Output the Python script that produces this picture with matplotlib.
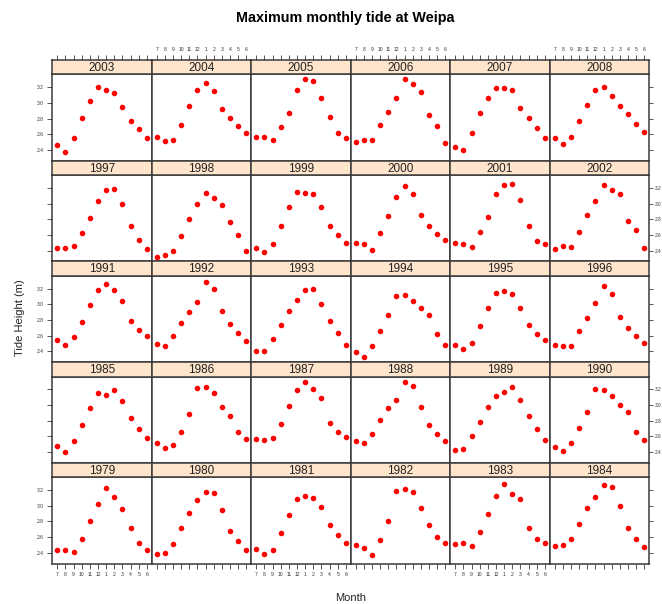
import numpy as np
import matplotlib
matplotlib.use('Agg')
import matplotlib.pyplot as plt

plt.rcParams['font.family'] = ['Liberation Sans', 'DejaVu Sans']

# months run July -> June
month_labels = ['7', '8', '9', '10', '11', '12', '1', '2', '3', '4', '5', '6']

# maximum monthly tide (m)
t1979 = [2.44, 2.44, 2.41, 2.57, 2.80, 3.02, 3.23, 3.11, 2.96, 2.71, 2.52, 2.44]
t1980 = [2.38, 2.40, 2.51, 2.71, 2.91, 3.08, 3.17, 3.16, 2.94, 2.68, 2.55, 2.43]
t1981 = [2.45, 2.39, 2.44, 2.65, 2.88, 3.09, 3.13, 3.10, 2.98, 2.75, 2.63, 2.53]
t1982 = [2.50, 2.46, 2.37, 2.56, 2.80, 3.19, 3.22, 3.18, 2.97, 2.76, 2.60, 2.52]
t1983 = [2.51, 2.52, 2.49, 2.66, 2.90, 3.12, 3.28, 3.15, 3.09, 2.71, 2.57, 2.52]
t1984 = [2.49, 2.50, 2.57, 2.77, 2.97, 3.11, 3.26, 3.24, 3.00, 2.71, 2.57, 2.48]
t1985 = [2.48, 2.40, 2.54, 2.75, 2.96, 3.15, 3.13, 3.19, 3.05, 2.83, 2.70, 2.58]
t1986 = [2.51, 2.45, 2.49, 2.66, 2.89, 3.22, 3.23, 3.16, 2.97, 2.86, 2.66, 2.57]
t1987 = [2.57, 2.55, 2.58, 2.76, 2.99, 3.19, 3.29, 3.20, 3.09, 2.77, 2.66, 2.59]
t1988 = [2.54, 2.51, 2.63, 2.81, 2.96, 3.06, 3.29, 3.25, 2.97, 2.75, 2.63, 2.54]
t1989 = [2.43, 2.44, 2.60, 2.78, 2.97, 3.11, 3.17, 3.23, 3.06, 2.86, 2.70, 2.56]
t1990 = [2.47, 2.42, 2.51, 2.71, 2.91, 3.20, 3.19, 3.12, 3.00, 2.91, 2.66, 2.55]
t1991 = [2.54, 2.48, 2.58, 2.78, 2.99, 3.19, 3.26, 3.19, 3.04, 2.79, 2.67, 2.59]
t1992 = [2.50, 2.47, 2.60, 2.76, 2.90, 3.03, 3.29, 3.20, 2.91, 2.75, 2.63, 2.53]
t1993 = [2.41, 2.41, 2.56, 2.74, 2.91, 3.06, 3.19, 3.20, 3.00, 2.79, 2.64, 2.48]
t1994 = [2.39, 2.33, 2.47, 2.66, 2.87, 3.11, 3.12, 3.04, 2.95, 2.87, 2.62, 2.48]
t1995 = [2.48, 2.43, 2.51, 2.73, 2.95, 3.14, 3.17, 3.13, 2.95, 2.74, 2.62, 2.54]
t1996 = [2.48, 2.47, 2.47, 2.66, 2.82, 3.02, 3.23, 3.13, 2.84, 2.70, 2.59, 2.51]
t1997 = [2.43, 2.43, 2.46, 2.63, 2.82, 3.04, 3.17, 3.19, 3.00, 2.71, 2.54, 2.42]
t1998 = [2.32, 2.35, 2.40, 2.59, 2.80, 3.00, 3.14, 3.07, 2.98, 2.77, 2.60, 2.40]
t1999 = [2.44, 2.38, 2.49, 2.72, 2.96, 3.15, 3.14, 3.12, 2.96, 2.71, 2.60, 2.50]
t2000 = [2.50, 2.49, 2.41, 2.63, 2.84, 3.08, 3.23, 3.13, 2.86, 2.71, 2.61, 2.54]
t2001 = [2.50, 2.49, 2.45, 2.64, 2.83, 3.12, 3.24, 3.25, 3.05, 2.72, 2.52, 2.48]
t2002 = [2.42, 2.46, 2.45, 2.64, 2.85, 3.04, 3.24, 3.17, 3.13, 2.78, 2.66, 2.43]
t2003 = [2.46, 2.38, 2.55, 2.81, 3.03, 3.20, 3.16, 3.13, 2.95, 2.77, 2.67, 2.55]
t2004 = [2.56, 2.51, 2.53, 2.72, 2.96, 3.17, 3.26, 3.15, 2.92, 2.81, 2.71, 2.62]
t2005 = [2.56, 2.56, 2.53, 2.69, 2.87, 3.16, 3.30, 3.28, 3.06, 2.82, 2.62, 2.55]
t2006 = [2.50, 2.53, 2.53, 2.72, 2.88, 3.07, 3.30, 3.24, 3.14, 2.85, 2.71, 2.49]
t2007 = [2.44, 2.40, 2.62, 2.87, 3.06, 3.19, 3.19, 3.17, 2.94, 2.81, 2.68, 2.55]
t2008 = [2.55, 2.48, 2.57, 2.77, 2.98, 3.17, 3.21, 3.09, 2.96, 2.86, 2.73, 2.63]

tides = {1979: t1979, 1980: t1980, 1981: t1981, 1982: t1982, 1983: t1983, 1984: t1984,
         1985: t1985, 1986: t1986, 1987: t1987, 1988: t1988, 1989: t1989, 1990: t1990,
         1991: t1991, 1992: t1992, 1993: t1993, 1994: t1994, 1995: t1995, 1996: t1996,
         1997: t1997, 1998: t1998, 1999: t1999, 2000: t2000, 2001: t2001, 2002: t2002,
         2003: t2003, 2004: t2004, 2005: t2005, 2006: t2006, 2007: t2007, 2008: t2008}

yticks = [2.4, 2.6, 2.8, 3.0, 3.2]

W, H = 662, 604
fig = plt.figure(figsize=(W / 100, H / 100), dpi=100)

left0 = 52.3
colw = 99.5
top0 = 60.0
rowh = 100.7
striph = 14.4
frame_col = '#3a3a3a'
x = np.arange(1, 13)

for r in range(5):
    first_year = 2003 - 6 * r
    for c in range(6):
        year = first_year + c
        x0 = (left0 + c * colw) / W
        y_strip_top = top0 + r * rowh
        y_bot = top0 + (r + 1) * rowh
        ax = fig.add_axes([x0, 1 - y_bot / H, colw / W, (rowh - striph) / H])
        ax.plot(x, tides[year], 'o', color='red', ms=4, mec='none')
        ax.set_xlim(0.4, 12.6)
        ax.set_ylim(2.263, 3.365)
        for s in ax.spines.values():
            s.set_color(frame_col)
            s.set_linewidth(1.1)

        # lattice style alternating axes
        ax.set_xticks([])
        ax.set_yticks([])
        tick_kw = dict(labelsize=3.6, length=3.5, width=0.6, color=frame_col,
                       labelcolor='#333333', direction='out', pad=2.5)
        if c == 0:
            ax.set_yticks(yticks)
            ax.set_yticklabels(['%.1f' % v for v in yticks] if r % 2 == 0 else [])
            ax.tick_params(axis='y', left=True, right=False, labelleft=(r % 2 == 0), **tick_kw)
        if c == 5:
            ax.set_yticks(yticks)
            ax.set_yticklabels(['%.1f' % v for v in yticks])
            right_kw = dict(tick_kw, length=3, pad=0.8, labelsize=3.4)
            ax.tick_params(axis='y', left=False, right=True, labelright=(r % 2 == 1),
                           labelleft=False, **right_kw)
        if r == 4:
            ax.set_xticks(x)
            ax.set_xticklabels(month_labels)
            ax.tick_params(axis='x', bottom=True, labelbottom=(c % 2 == 0), **tick_kw)

        # strip on top
        sax = fig.add_axes([x0, 1 - (y_strip_top + striph) / H, colw / W, striph / H])
        sax.set_facecolor('#ffe5cc')
        sax.set_xlim(0.4, 12.6)
        sax.set_xticks([])
        sax.set_yticks([])
        for s in sax.spines.values():
            s.set_color(frame_col)
            s.set_linewidth(1.1)
        sax.text(0.5, 0.45, str(year), transform=sax.transAxes, ha='center',
                 va='center', fontsize=8.5, color='#222222')
        if r == 0:
            sax.set_xticks(x)
            sax.set_xticklabels(month_labels)
            sax.tick_params(axis='x', top=True, bottom=False, labelbottom=False,
                            labeltop=(c % 2 == 1), **tick_kw)

fig.text(345 / W, 1 - 18 / H, 'Maximum monthly tide at Weipa', ha='center',
         va='center', fontsize=10.4, fontweight='bold')
fig.text(20 / W, 1 - 318 / H, 'Tide Height (m)', rotation=90, ha='center',
         va='center', fontsize=8, color='#222222')
fig.text(351 / W, 1 - 598 / H, 'Month', ha='center', va='center', fontsize=8,
         color='#222222')

fig.savefig('out.png', dpi=100)
